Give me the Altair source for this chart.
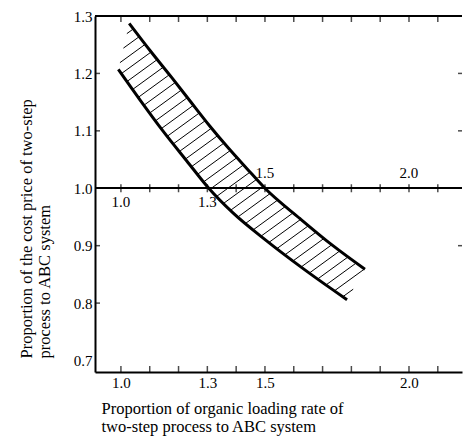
import altair as alt
import pandas as pd
import numpy as np

# ---- data ----
upper_x = [1.029, 1.101, 1.176, 1.240, 1.309, 1.373, 1.436, 1.500, 1.622, 1.736, 1.847]
upper_y = [1.287, 1.240, 1.193, 1.152, 1.108, 1.070, 1.035, 1.000, 0.947, 0.900, 0.859]
lower_x = [0.991, 1.066, 1.147, 1.228, 1.305, 1.389, 1.507, 1.622, 1.736, 1.785]
lower_y = [1.207, 1.154, 1.099, 1.048, 1.000, 0.957, 0.908, 0.864, 0.823, 0.806]

x_tick_values = [1.0, 1.1, 1.2, 1.3, 1.4, 1.5, 1.6, 1.7, 1.8, 1.9, 2.0, 2.1]
x_label_values = [1.0, 1.3, 1.5, 2.0]
y_label_values = [0.7, 0.8, 0.9, 1.0, 1.1, 1.2, 1.3]
y_left_ticks = [0.8, 0.9, 1.1, 1.2]
y_right_ticks = [0.9, 1.1, 1.2]
mid_labels_below = [1.0, 1.3]
mid_labels_above = [1.5, 2.0]
x_title = ["Proportion of organic loading rate of", "two-step process to ABC system"]
y_title = ["Proportion of the cost price of two-step", "process to ABC system"]

X_DOMAIN = [0.91, 2.184]
Y_DOMAIN = [0.68, 1.3]
W, H = 367, 356
FONT = "Liberation Serif"
FS = 15
TFS = 16.5

# ---- hatching between the two curves ----
sx = W / (X_DOMAIN[1] - X_DOMAIN[0])
sy = H / (Y_DOMAIN[1] - Y_DOMAIN[0])
k = np.tan(np.radians(36)) * sx / sy
dc = 12.0 / sy
poly = list(zip(lower_x, lower_y)) + list(zip(upper_x[::-1], upper_y[::-1]))
vals = [y - k * x for x, y in poly]
segs = []
for c in np.arange(min(vals) + dc / 2, max(vals), dc):
    pts = []
    n = len(poly)
    for i in range(n):
        x1, y1 = poly[i]
        x2, y2 = poly[(i + 1) % n]
        f1 = y1 - k * x1 - c
        f2 = y2 - k * x2 - c
        if (f1 < 0) != (f2 < 0):
            t = f1 / (f1 - f2)
            pts.append((x1 + t * (x2 - x1), y1 + t * (y2 - y1)))
    if len(pts) >= 2:
        pts.sort()
        segs.append(dict(x=pts[0][0], y=pts[0][1], x2=pts[-1][0], y2=pts[-1][1]))
hatch_df = pd.DataFrame(segs)

curves_df = pd.concat([
    pd.DataFrame({"x": upper_x, "y": upper_y, "curve": "upper", "i": range(len(upper_x))}),
    pd.DataFrame({"x": lower_x, "y": lower_y, "curve": "lower", "i": range(len(lower_x))}),
])

xscale = alt.Scale(domain=X_DOMAIN, nice=False, zero=False)
yscale = alt.Scale(domain=Y_DOMAIN, nice=False, zero=False)
xaxis = alt.Axis(values=x_label_values, format=".1f", ticks=False, grid=False,
                 domainColor="black", domainWidth=2, labelFont=FONT, labelFontSize=FS,
                 labelColor="black", labelPadding=3,
                 title=x_title, titleFont=FONT, titleFontSize=TFS, titleFontWeight="normal",
                 titleColor="black", titleAlign="left", titleAnchor="start", titleBaseline="top",
                 titleX=6, titleY=28, titleLineHeight=18)
yaxis = alt.Axis(values=y_label_values, format=".1f", ticks=False, grid=False,
                 domainColor="black", domainWidth=2, labelFont=FONT, labelFontSize=FS,
                 labelColor="black", labelPadding=3,
                 title=y_title, titleFont=FONT, titleFontSize=TFS, titleFontWeight="normal",
                 titleColor="black", titleAlign="left", titleAnchor="start", titleBaseline="top",
                 titleAngle=270, titleX=-77, titleY=342, titleLineHeight=18)


def X(field):
    return alt.X(field, type="quantitative", scale=xscale, axis=xaxis)


def Y(field):
    return alt.Y(field, type="quantitative", scale=yscale, axis=yaxis)


def XD(v):
    return alt.XDatum(v, type="quantitative", scale=xscale, axis=xaxis)


def YD(v):
    return alt.YDatum(v, type="quantitative", scale=yscale, axis=yaxis)


curves = alt.Chart(curves_df).mark_line(color="black", strokeWidth=3, interpolate="monotone").encode(
    x=X("x"), y=Y("y"), detail="curve:N", order="i:Q"
)
hatch = alt.Chart(hatch_df).mark_rule(color="black", strokeWidth=1).encode(
    x=X("x"), y=Y("y"), x2="x2:Q", y2="y2:Q"
)

xt_df = pd.DataFrame({"x": x_tick_values})
mid_line = alt.Chart(xt_df).mark_rule(color="black", strokeWidth=1.3).encode(y=YD(1.0))
top_line = alt.Chart(xt_df).mark_rule(color="black", strokeWidth=2).encode(y=YD(1.3))
mid_ticks = alt.Chart(xt_df).mark_tick(orient="vertical", size=8, thickness=1.5, color="black").encode(
    x=X("x"), y=YD(1.0))
top_ticks = alt.Chart(xt_df).mark_tick(orient="vertical", size=6, thickness=1.5, color="black", yOffset=3).encode(
    x=X("x"), y=YD(1.3))
bot_ticks = alt.Chart(xt_df).mark_tick(orient="vertical", size=6, thickness=1.5, color="black", yOffset=-3).encode(
    x=X("x"), y=YD(Y_DOMAIN[0]))

left_ticks = alt.Chart(pd.DataFrame({"y": y_left_ticks})).mark_tick(
    orient="horizontal", size=5, thickness=1.5, color="black", xOffset=2.5).encode(
    x=XD(X_DOMAIN[0]), y=Y("y"))
right_ticks = alt.Chart(pd.DataFrame({"y": y_right_ticks})).mark_tick(
    orient="horizontal", size=4, thickness=1.5, color="black", xOffset=-2).encode(
    x=XD(X_DOMAIN[1]), y=Y("y"))

below_lbl = alt.Chart(pd.DataFrame({"x": mid_labels_below, "y": [1.0] * len(mid_labels_below)})).mark_text(
    font=FONT, fontSize=FS, color="black", dy=14, baseline="middle").encode(
    x=X("x"), y=Y("y"), text=alt.Text("x:Q", format=".1f"))
above_lbl = alt.Chart(pd.DataFrame({"x": mid_labels_above, "y": [1.0] * len(mid_labels_above)})).mark_text(
    font=FONT, fontSize=FS, color="black", dy=-15, baseline="middle").encode(
    x=X("x"), y=Y("y"), text=alt.Text("x:Q", format=".1f"))

chart = alt.layer(
    hatch, curves, mid_line, top_line, mid_ticks, top_ticks, bot_ticks,
    left_ticks, right_ticks, below_lbl, above_lbl
).properties(
    width=W, height=H, autosize="none",
    padding={"left": 95, "top": 16, "right": 1, "bottom": 71},
    background="white",
).configure_view(strokeWidth=0)

chart.save("out.html", embed_options={"renderer": "svg", "actions": False})
